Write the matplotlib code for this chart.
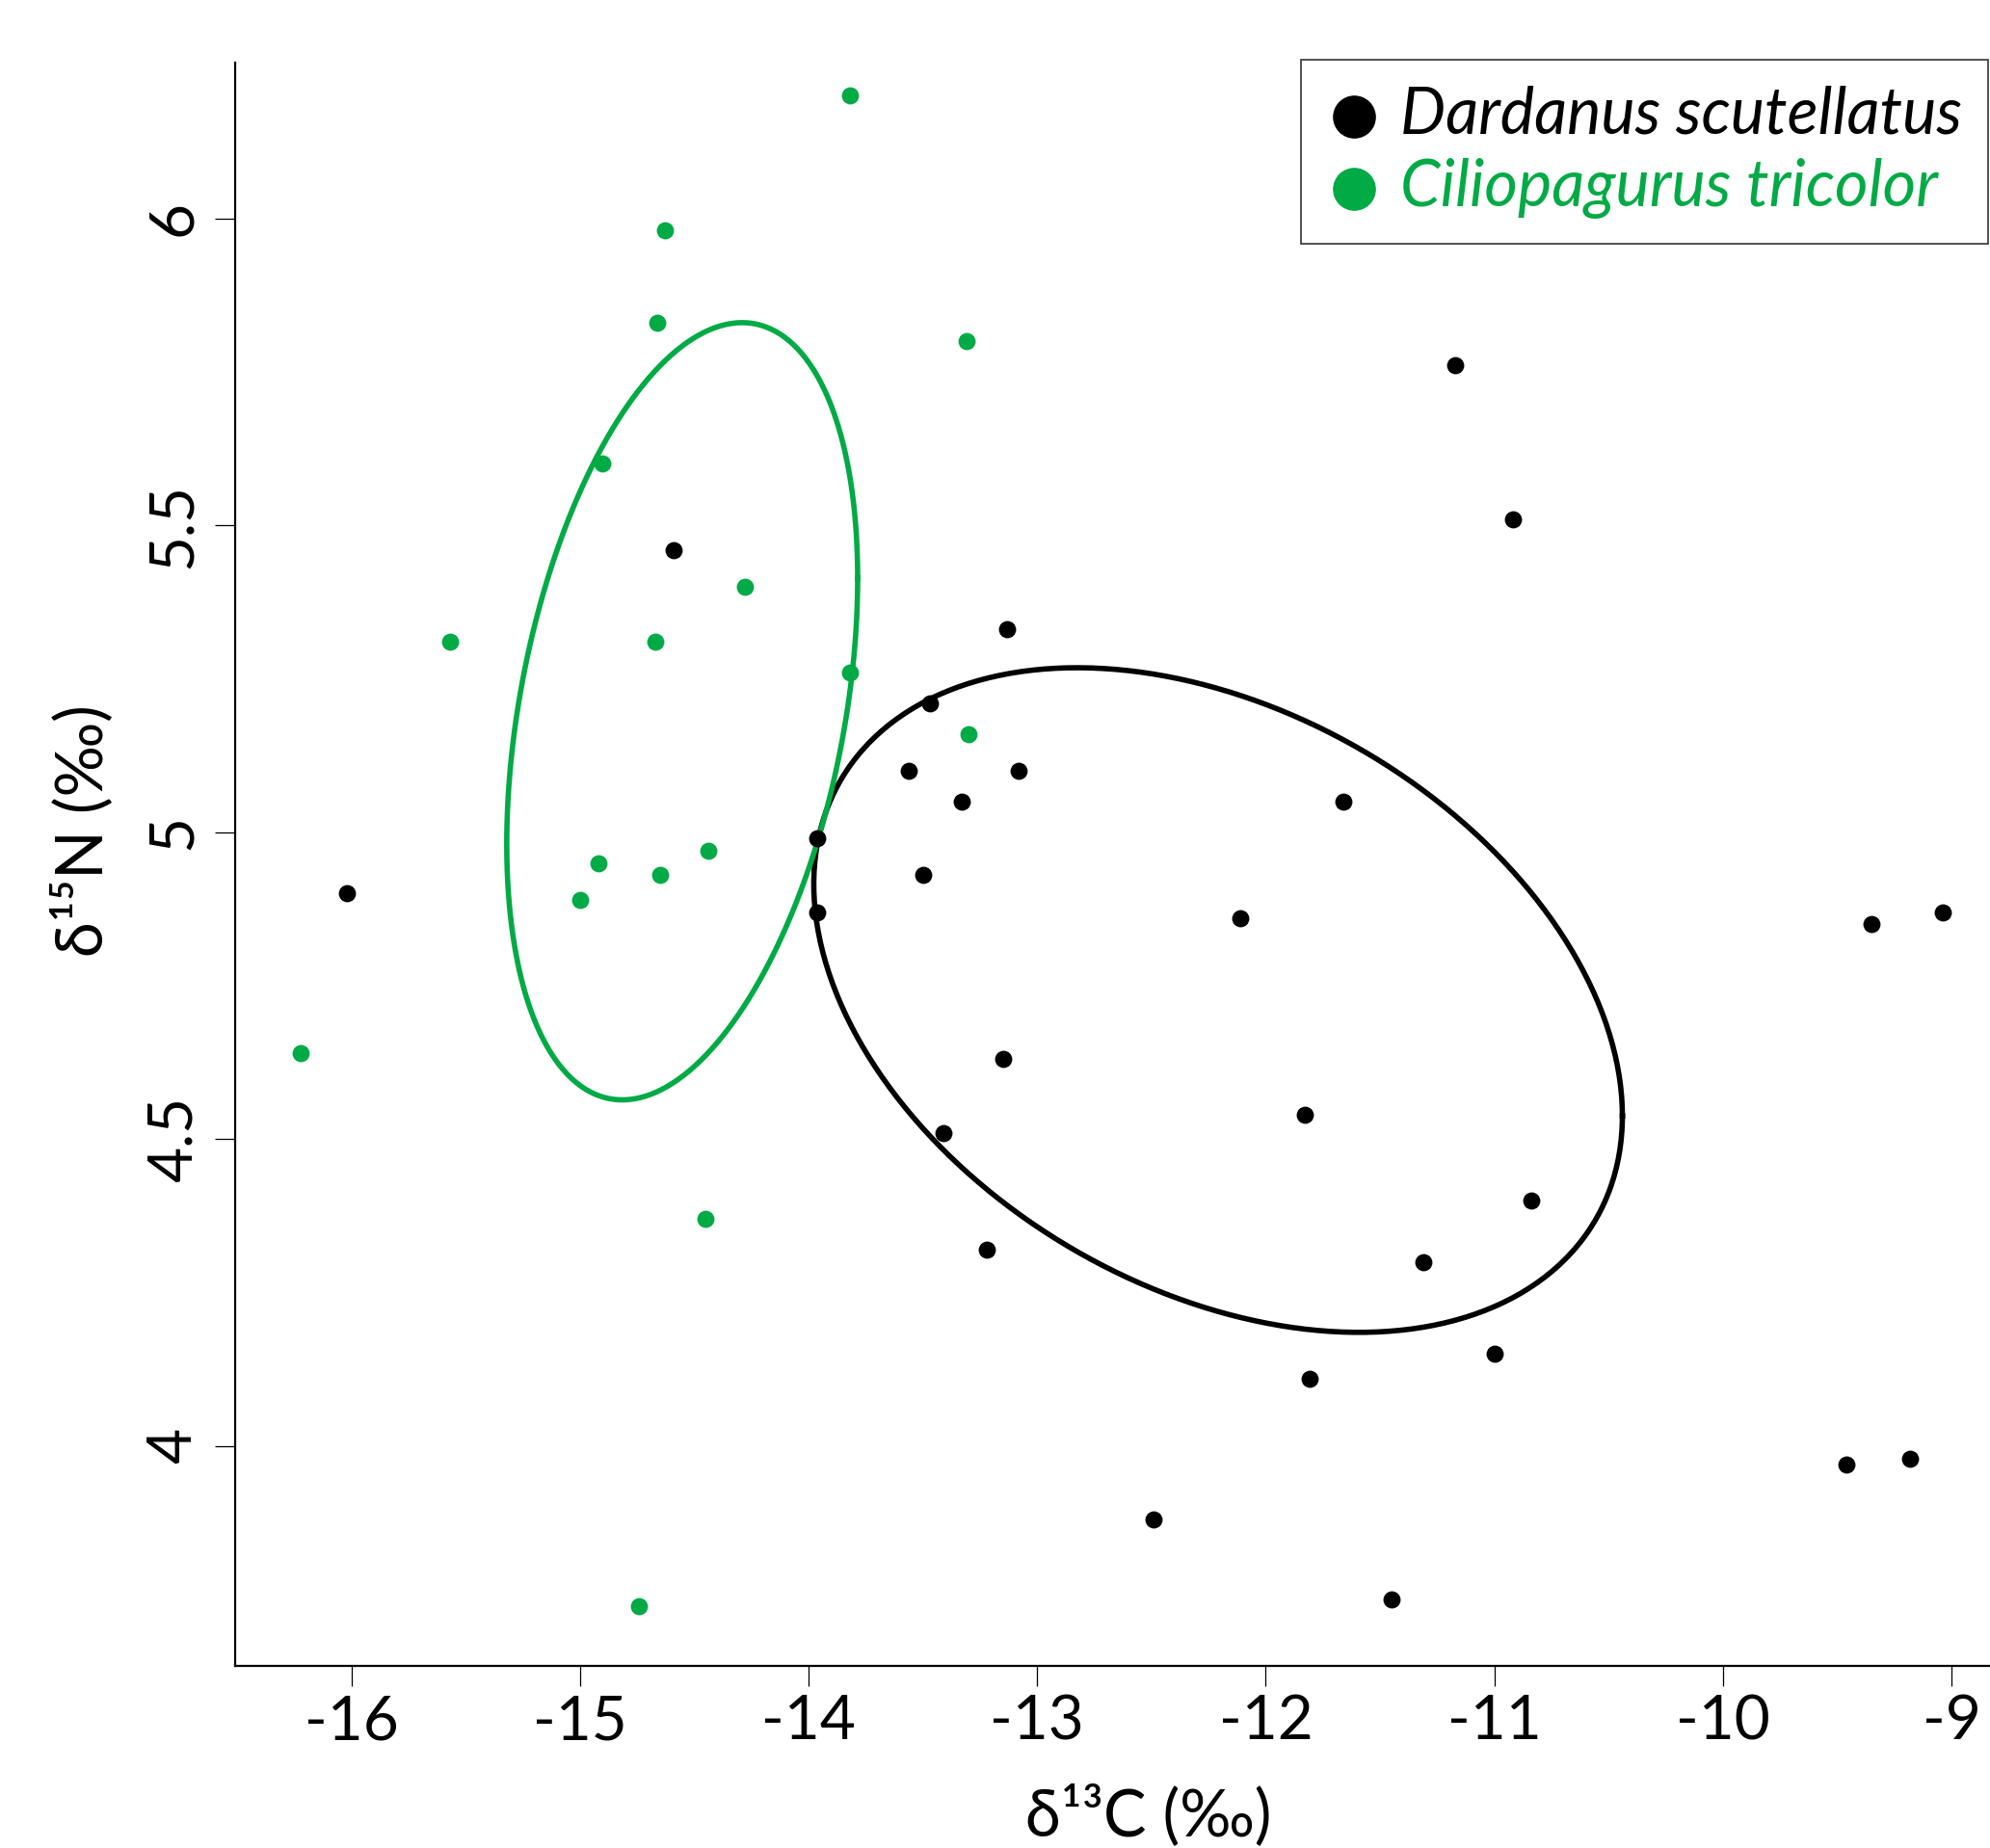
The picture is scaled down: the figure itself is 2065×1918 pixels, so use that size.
import numpy as np
import matplotlib
matplotlib.use("Agg")
import matplotlib.pyplot as plt

plt.rcParams['font.family'] = ['Lato', 'DejaVu Sans']

# ---- data ----
dard_x = [-16.02, -14.59, -13.96, -13.96, -13.56, -13.47, -13.50, -13.33, -13.13, -13.08,
          -13.15, -13.41, -13.22, -12.49, -12.11, -11.66, -11.83, -11.81, -11.45, -11.31,
          -11.17, -10.92, -10.84, -11.00, -9.46, -9.18, -9.35, -9.04]
dard_y = [4.90, 5.46, 4.99, 4.87, 5.10, 5.21, 4.93, 5.05, 5.33, 5.10,
          4.63, 4.51, 4.32, 3.88, 4.86, 5.05, 4.54, 4.11, 3.75, 4.30,
          5.76, 5.51, 4.40, 4.15, 3.97, 3.98, 4.85, 4.87]

cilio_x = [-13.82, -14.63, -14.66, -13.31, -14.90, -14.28, -15.57, -14.67, -13.82, -13.30,
           -14.44, -14.92, -14.65, -15.00, -16.22, -14.45, -14.74]
cilio_y = [6.20, 5.98, 5.83, 5.80, 5.60, 5.40, 5.31, 5.31, 5.26, 5.16,
           4.97, 4.95, 4.93, 4.89, 4.64, 4.37, 3.74]

# standard ellipses: centre and covariance (Sxx, Syy, Sxy)
dard_centre = [-12.2085, 4.7266]
dard_cov = [3.1276, 0.2930, -0.3337]
cilio_centre = [-14.5525, 5.197]
cilio_cov = [0.589, 0.4007, 0.166]

xticks = [-16, -15, -14, -13, -12, -11, -10, -9]
yticks = [4, 4.5, 5, 5.5, 6]
ytick_labels = ['4', '4.5', '5', '5.5', '6']

labels = ['Dardanus scutellatus', 'Ciliopagurus tricolor']
black = '#000000'
green = '#00AA45'

W, H = 2065, 1918
fig = plt.figure(figsize=(W / 100, H / 100), dpi=100)
ax = fig.add_axes([244 / W, 1 - 1729 / H, 1 - 244 / W, (1729 - 64.7) / H])


def ellipse(centre, cov, n=400):
    S = np.array([[cov[0], cov[2]], [cov[2], cov[1]]])
    L = np.linalg.cholesky(S)
    t = np.linspace(0, 2 * np.pi, n)
    pts = L @ np.vstack([np.cos(t), np.sin(t)])
    return pts[0] + centre[0], pts[1] + centre[1]


ex, ey = ellipse(dard_centre, dard_cov)
ax.plot(ex, ey, color=black, lw=4.0, zorder=2)
ex, ey = ellipse(cilio_centre, cilio_cov)
ax.plot(ex, ey, color=green, lw=4.0, zorder=2)

h1 = ax.scatter(dard_x, dard_y, s=165, color=black, linewidths=0, zorder=3, label=labels[0])
h2 = ax.scatter(cilio_x, cilio_y, s=165, color=green, linewidths=0, zorder=3, label=labels[1])

ax.set_xlim(-16.508, -8.832)
ax.set_ylim(3.642, 6.254)

for s in ['top', 'right']:
    ax.spines[s].set_visible(False)
for s in ['left', 'bottom']:
    ax.spines[s].set_linewidth(1.6)

ax.set_xticks(xticks)
ax.set_xticklabels([str(v) for v in xticks])
ax.set_yticks(yticks)
ax.set_yticklabels(ytick_labels, rotation=90, va='center')
ax.tick_params(axis='both', length=15, width=0.9, labelsize=46)
ax.tick_params(axis='x', pad=6)
ax.tick_params(axis='y', pad=10)

fig.text(1192 / W, 1 - 1885 / H, 'δ¹³C (‰)', ha='center', va='center', fontsize=48)
fig.text(86 / W, 1 - 862 / H, 'δ¹⁵N (‰)', ha='center', va='center', fontsize=48, rotation=90)

leg = ax.legend(handles=[h1, h2], loc='upper left',
                bbox_to_anchor=(1350 / W, 1 - 61.7 / H), bbox_transform=fig.transFigure,
                borderaxespad=0, markerscale=2.5, frameon=True, fancybox=False,
                handletextpad=0.3, borderpad=0.4, labelspacing=0.2, handlelength=0.85,
                prop={'style': 'italic', 'size': 48})
leg.get_frame().set_edgecolor('black')
leg.get_frame().set_linewidth(1.2)
for txt, c in zip(leg.get_texts(), [black, green]):
    txt.set_color(c)

fig.savefig('out.png', dpi=100)
